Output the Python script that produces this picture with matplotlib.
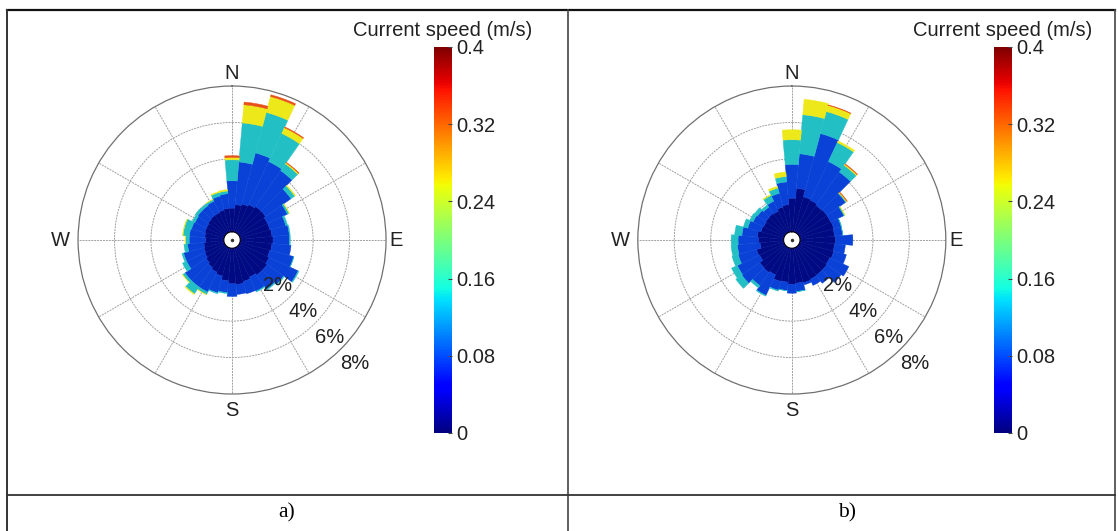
import numpy as np
import matplotlib
matplotlib.use("Agg")
import matplotlib.pyplot as plt
from matplotlib.lines import Line2D
from matplotlib.colors import Normalize

plt.rcParams['font.family'] = ['Liberation Sans', 'DejaVu Sans']

# direction sectors (deg, clockwise from N), 10 deg wide
directions = np.arange(0, 360, 10)

# frequency (%) of each speed class per sector -- panel a
a_bin1 = [1.3, 1.5, 1.6, 1.7, 1.8, 1.8, 1.7, 1.7, 1.75, 1.8, 1.75, 1.7,
          1.8, 1.9, 1.9, 1.8, 1.9, 2.0, 1.95, 1.8, 1.6, 1.5, 1.4, 1.3,
          1.2, 1.15, 1.1, 1.0, 1.05, 1.1, 1.1, 1.15, 1.2, 1.2, 1.25, 1.3]
a_bin2 = [1.5, 2.35, 2.9, 2.6, 2.4, 1.7, 1.2, 0.9, 0.95, 0.9, 1.05, 1.35,
          1.75, 1.1, 0.95, 0.85, 0.7, 0.55, 0.7, 0.65, 0.95, 1.2, 1.3, 1.4,
          1.1, 1.15, 0.9, 0.9, 0.85, 0.75, 0.7, 0.7, 0.65, 0.7, 0.8, 0.8]
a_bin3 = [1.15, 2.15, 2.3, 1.7, 0.45, 0.25, 0.1, 0.1, 0.05, 0.05, 0.0, 0.02,
          0.05, 0.05, 0.05, 0.05, 0.0, 0.0, 0.0, 0.05, 0.05, 0.15, 0.45, 0.15,
          0.25, 0.1, 0.2, 0.2, 0.35, 0.4, 0.15, 0.15, 0.13, 0.1, 0.2, 0.15]
a_bin4 = [0.13, 1.0, 0.9, 0.35, 0.07, 0.05, 0.02, 0, 0, 0, 0, 0,
          0, 0, 0, 0, 0, 0, 0, 0, 0, 0.02, 0.05, 0.02,
          0, 0, 0, 0.03, 0.03, 0.03, 0, 0, 0, 0.02, 0.05, 0.08]
a_bin5 = [0.1, 0.15, 0.1, 0.05, 0.03, 0, 0, 0, 0, 0, 0, 0,
          0, 0, 0, 0, 0, 0, 0, 0, 0, 0, 0, 0,
          0, 0, 0, 0, 0, 0, 0, 0, 0, 0, 0, 0]

# panel b
b_bin1 = [1.84, 2.4, 2.0, 1.96, 1.87, 1.9, 1.9, 1.93, 1.9, 1.95, 1.9, 1.93,
          1.85, 1.9, 1.9, 1.93, 1.98, 1.93, 1.98, 1.87, 1.9, 1.66, 1.73, 1.7,
          1.5, 1.55, 1.3, 1.39, 1.45, 1.3, 1.26, 1.3, 1.33, 1.3, 1.42, 1.5]
b_bin2 = [1.86, 1.9, 3.6, 2.34, 2.23, 1.25, 0.8, 0.42, 0.45, 0.95, 0.6, 0.72,
          1.15, 0.95, 0.55, 0.37, 0.12, 0.45, 0.49, 0.46, 0.5, 1.24, 0.87, 1.2,
          1.35, 1.05, 1.25, 1.11, 0.85, 0.75, 0.64, 0.55, 0.42, 0.6, 0.78, 1.25]
b_bin3 = [1.35, 2.15, 1.25, 1.15, 0.45, 0.05, 0.05, 0.03, 0.01, 0, 0, 0,
          0, 0, 0, 0, 0, 0.02, 0, 0.02, 0.05, 0.05, 0.15, 0.4,
          0.35, 0.35, 0.35, 0.38, 0.4, 0.25, 0.2, 0.2, 0.15, 0.35, 0.3, 0.3]
b_bin4 = [0.55, 0.85, 0.35, 0.1, 0.07, 0.04, 0.02, 0, 0, 0, 0, 0,
          0, 0, 0, 0, 0, 0, 0, 0, 0, 0, 0, 0,
          0, 0, 0, 0, 0, 0, 0, 0, 0, 0.05, 0.1, 0.25]
b_bin5 = [0, 0, 0.03, 0, 0.03, 0.03, 0, 0, 0, 0, 0, 0,
          0, 0, 0, 0, 0, 0, 0, 0, 0, 0, 0, 0,
          0, 0, 0, 0, 0, 0, 0, 0, 0, 0, 0, 0]

bin_colors = ['#000a82', '#0a42d8', '#22bfc4', '#ece81a', '#e85018']
rings = [2, 4, 6, 8]
compass = ['N', 'E', 'S', 'W']
cbar_ticks = [0, 0.08, 0.16, 0.24, 0.32, 0.4]
cbar_labels = ['0', '0.08', '0.16', '0.24', '0.32', '0.4']
panel_labels = ['a)', 'b)']

FS = 14.5
TXT = '#222222'

fig = plt.figure(figsize=(11.18, 5.31), dpi=100)

def rose(left, bins):
    ax = fig.add_axes([left, 0.258, 0.2755, 0.58], projection='polar')
    ax.set_theta_zero_location('N')
    ax.set_theta_direction(-1)
    ax.set_axisbelow(True)
    theta = np.deg2rad(directions)
    bottom = np.zeros(len(directions))
    for vals, col in zip(bins, bin_colors):
        vals = np.array(vals, dtype=float)
        keep = vals > 0
        ax.bar(theta[keep], vals[keep], width=np.deg2rad(10),
               bottom=bottom[keep], color=col, edgecolor=col,
               linewidth=0.3, align='center')
        bottom += vals
    ax.set_ylim(0, 8)
    ax.set_rorigin(-0.45)
    ax.set_yticks(rings[:-1])
    ax.set_yticklabels([])
    ax.set_xticks(np.deg2rad(np.arange(0, 360, 30)))
    ax.set_xticklabels([])
    ax.grid(True, color='#a0a0a0', linewidth=0.7, linestyle=(0, (2, 1)))
    ax.spines['polar'].set_color('#707070')
    ax.spines['polar'].set_linewidth(0.9)
    ax.spines['inner'].set_visible(False)
    # compass letters
    for lab, (x, y) in zip(compass, [(0.5, 1.04), (1.033, 0.5),
                                     (0.5, -0.052), (-0.058, 0.5)]):
        ax.text(x, y, lab, transform=ax.transAxes, fontsize=FS, color=TXT,
                ha='center', va='center')
    for r in rings:
        ax.text(np.deg2rad(135), r + 1.1, '%d%%' % r, fontsize=FS,
                color=TXT, ha='center', va='center', clip_on=False)
    ax.plot([0], [-0.45], marker='o', markersize=1.5, color='#333333',
            clip_on=False)
    return ax

def cbar(left):
    cax = fig.add_axes([left, 0.1846, 0.0161, 0.727])
    sm = plt.cm.ScalarMappable(norm=Normalize(0, 0.4), cmap='jet')
    cb = fig.colorbar(sm, cax=cax, ticks=cbar_ticks)
    cb.ax.set_yticklabels(cbar_labels)
    cb.outline.set_visible(False)
    cb.ax.tick_params(labelsize=FS, labelcolor=TXT, length=3,
                      direction='in', color='#444444', pad=3)
    fig.text(left + 0.008, 0.943, 'Current speed (m/s)', fontsize=FS,
             color=TXT, ha='center', va='center')

rose(0.0698, [a_bin1, a_bin2, a_bin3, a_bin4, a_bin5])
cbar(0.3882)
rose(0.5705, [b_bin1, b_bin2, b_bin3, b_bin4, b_bin5])
cbar(0.889)

# table frame
def fline(x, y, **kw):
    fig.add_artist(Line2D(x, y, transform=fig.transFigure, **kw))

fline([0.006, 0.997], [0.981, 0.981], color='#111111', linewidth=1.6)
fline([0.0063, 0.0063], [0.0, 0.981], color='#333333', linewidth=1.4)
fline([0.508, 0.508], [0.0, 0.981], color='#444444', linewidth=1.2)
fline([0.997, 0.997], [0.0, 0.981], color='#444444', linewidth=1.2)
fline([0.006, 0.997], [0.068, 0.068], color='#333333', linewidth=1.3)

for x, lab in zip([0.2567, 0.7576], panel_labels):
    fig.text(x, 0.034, lab, fontsize=15.5, ha='center', va='center',
             family=['Liberation Serif', 'DejaVu Serif'])

fig.savefig('out.png', dpi=100, facecolor='white')
